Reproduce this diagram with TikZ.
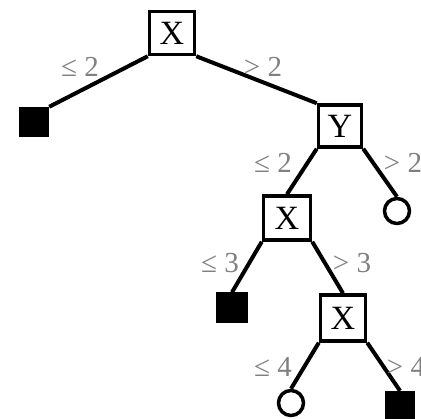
\documentclass[tikz,border=0pt]{standalone}
\usepackage{fontspec}
\setmainfont{Liberation Serif}
\begin{document}
\begin{tikzpicture}[x=1pt,y=-1pt,
  test/.style={draw,line width=3.5pt,fill=white,inner sep=0pt,font=\fontsize{34}{34}\selectfont},
  leafb/.style={fill=black,inner sep=0pt,minimum size=30pt},
  leafc/.style={draw,circle,line width=3.5pt,inner sep=0pt,minimum size=25pt},
  edge/.style={line width=4pt},
  lab/.style={text=black!50,font=\fontsize{29}{29}\selectfont,inner sep=0pt}]
\useasboundingbox (0,0) rectangle (421,419);
\node[test,minimum width=45pt,minimum height=43pt] (r) at (172,33) {X};
\node[test,minimum width=43pt,minimum height=42pt] (y) at (340,126) {Y};
\node[test,minimum width=47pt,minimum height=44pt] (x2) at (287,218) {X};
\node[test,minimum width=45pt,minimum height=46pt] (x3) at (343,318) {X};
\node[leafb] (l1) at (34,122) {};
\node[leafc] (c1) at (397,211) {};
\node[leafb,minimum width=32pt,minimum height=31pt] (l2) at (232,308) {};
\node[leafc] (c2) at (291,403) {};
\node[leafb] (l3) at (400,406) {};
\begin{scope}[on background layer/.style={}]
\end{scope}
\draw[edge] (r.south west) -- (l1.north east);
\draw[edge] (r.south east) -- (y.north west);
\draw[edge] (y.south west) -- (x2.north);
\draw[edge] (y.south east) -- (c1.north);
\draw[edge] (x2.south west) -- (l2.north);
\draw[edge] (x2.south east) -- (x3.north);
\draw[edge] (x3.south west) -- (c2.north);
\draw[edge] (x3.south east) -- (l3.north);
\node[lab] (t1) at (80,67) {≤ 2};
\node[lab] (t2) at (263,67) {> 2};
\node[lab] (t3) at (273,163) {≤ 2};
\node[lab] (t4) at (403,163) {> 2};
\node[lab] (t5) at (220,263) {≤ 3};
\node[lab] (t6) at (352,263) {> 3};
\node[lab] (t7) at (273,367) {≤ 4};
\node[lab] (t8) at (406,367) {> 4};
\end{tikzpicture}
\end{document}
